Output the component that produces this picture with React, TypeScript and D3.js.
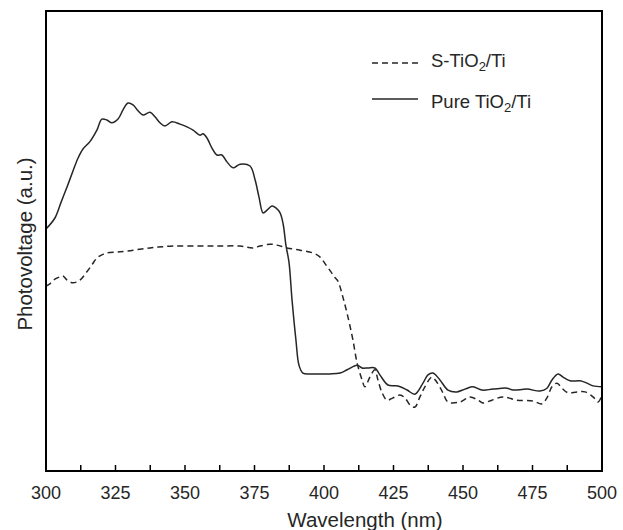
import * as d3 from 'd3';

// wavelength (nm) and photovoltage (a.u.)
const pureNm = [300, 303.2, 305.4, 307.6, 309.7, 311.5, 313.3, 315.8, 318.3, 320.1, 321.9, 323.7, 325.9, 327.7, 329.5, 331.3, 333.1, 334.9, 337.4, 339.2, 341.0, 342.8, 345.3, 348.2, 350.7, 352.9, 355.4, 356.5, 357.9, 359.7, 361.5, 363.3, 365.1, 367.3, 369.8, 373.4, 375.2, 376.6, 378.1, 379.5, 381.3, 382.7, 384.2, 385.3, 386.3, 387.4, 388.5, 389.9, 391.0, 392.4, 395.0, 398.6, 402.2, 405.8, 408.3, 411.9, 413.7, 415.8, 418.3, 420.1, 423.0, 426.6, 429.9, 432.7, 435.6, 437.4, 439.2, 441.7, 444.6, 447.8, 450.7, 453.6, 456.8, 460.8, 465.8, 468.0, 473.0, 477.7, 480.2, 482.0, 484.2, 486.0, 488.5, 492.1, 494.6, 496.8, 500];
const pureVal = [52.6, 55.0, 58.4, 61.8, 65.2, 68.0, 70.0, 71.6, 74.1, 76.5, 76.3, 75.7, 76.5, 78.5, 80.0, 79.6, 78.3, 77.4, 78.0, 77.0, 75.7, 75.0, 75.9, 75.4, 74.8, 74.1, 73.0, 73.3, 72.4, 70.2, 68.7, 68.7, 67.2, 65.9, 66.7, 66.3, 63.3, 59.6, 56.1, 56.7, 57.6, 57.2, 56.1, 53.7, 49.1, 45.4, 37.2, 28.5, 23.0, 21.3, 21.1, 21.1, 21.1, 21.3, 22.0, 23.0, 22.4, 22.4, 22.4, 20.9, 18.7, 18.5, 17.6, 16.7, 19.1, 20.9, 21.3, 19.8, 17.6, 17.2, 17.8, 18.3, 17.6, 17.8, 18.0, 17.6, 17.8, 17.4, 18.0, 19.8, 21.1, 20.4, 19.6, 19.6, 19.1, 18.5, 18.3];

const sNm = [300, 301.4, 303.2, 305.0, 306.1, 307.6, 309.7, 312.2, 314.7, 316.5, 318.3, 320.1, 321.9, 325.5, 329.1, 337.4, 345.7, 355.4, 362.6, 369.8, 374.5, 377.0, 380.6, 383.1, 386.7, 391.4, 396.0, 398.6, 400.7, 402.5, 404.0, 405.0, 406.8, 408.6, 410.4, 411.9, 413.7, 414.7, 416.5, 418.3, 419.4, 420.9, 422.7, 424.8, 427.3, 429.1, 431.0, 432.7, 434.5, 436.3, 438.8, 440.6, 442.8, 444.6, 448.9, 452.5, 455.4, 457.2, 460.4, 464.4, 469.4, 475.2, 478.4, 480.2, 482.0, 483.8, 485.6, 487.8, 491.0, 493.9, 496.8, 498.6, 500];
const sVal = [40.2, 40.7, 41.7, 42.2, 42.4, 41.5, 40.9, 41.5, 43.3, 44.8, 46.3, 47.0, 47.4, 47.6, 47.8, 48.5, 48.9, 48.9, 48.9, 48.9, 48.5, 48.9, 49.3, 49.1, 48.5, 48.0, 47.4, 46.5, 44.8, 43.3, 42.0, 41.3, 37.8, 33.5, 28.5, 23.5, 19.8, 18.3, 20.4, 22.0, 19.8, 17.0, 15.4, 15.9, 16.5, 15.9, 14.3, 13.9, 16.1, 18.3, 20.4, 19.3, 17.0, 15.0, 15.0, 16.1, 15.4, 14.8, 15.4, 16.1, 15.4, 15.2, 14.6, 15.9, 18.3, 19.1, 18.0, 17.0, 17.2, 17.2, 16.1, 15.0, 16.5];

const xTicks = [300, 325, 350, 375, 400, 425, 450, 475, 500];
const seriesNames = ['S-TiO', 'Pure TiO'];

const W = 623;
const H = 530;
const left = 46, right = 602, top = 11, bottom = 471;
const font = '"Liberation Sans", Arial, Helvetica, sans-serif';
const ink = '#262626';

export default function App() {
  const x = d3.scaleLinear().domain([300, 500]).range([left, right]);
  const y = d3.scaleLinear().domain([0, 100]).range([bottom, top]);

  const makePath = (nm: number[], vals: number[]) =>
    d3
      .line<[number, number]>()
      .x((d) => x(d[0]))
      .y((d) => y(d[1]))
      .curve(d3.curveCatmullRom.alpha(0.5))(nm.map((n, i) => [n, vals[i]]));

  const minorTicks = d3.range(300, 500.01, 12.5);

  return (
    <svg
      width={W}
      height={H}
      style={{ position: 'absolute', left: 0, top: 0, background: '#fff' }}
      fontFamily={font}
    >
      <rect x={0} y={0} width={W} height={H} fill="#fff" />

      {/* curves */}
      <path d={makePath(sNm, sVal) || ''} fill="none" stroke={ink} strokeWidth={1.5} strokeDasharray="6,4" />
      <path d={makePath(pureNm, pureVal) || ''} fill="none" stroke={ink} strokeWidth={1.5} />

      {/* frame */}
      <rect x={left} y={top} width={right - left} height={bottom - top} fill="none" stroke="#000" strokeWidth={2} />

      {/* ticks, pointing inward */}
      {minorTicks.map((t) => (
        <line key={t} x1={x(t)} x2={x(t)} y1={bottom} y2={bottom - 6} stroke="#000" strokeWidth={1.5} />
      ))}
      {xTicks.map((t) => (
        <text key={t} x={x(t)} y={499} textAnchor="middle" fontSize={18} fill={ink}>
          {t}
        </text>
      ))}

      <text x={365} y={527} textAnchor="middle" fontSize={20.5} fill={ink}>
        Wavelength (nm)
      </text>
      <text transform="translate(32,244) rotate(-90)" textAnchor="middle" fontSize={20.5} fill={ink}>
        Photovoltage (a.u.)
      </text>

      {/* legend */}
      <line x1={372} x2={418} y1={63} y2={63} stroke={ink} strokeWidth={1.5} strokeDasharray="6,4" />
      <text x={431} y={67} fontSize={18.5} fill={ink}>
        {seriesNames[0]}
        <tspan fontSize={13} dy={4}>2</tspan>
        <tspan dy={-4}>/Ti</tspan>
      </text>
      <line x1={372} x2={418} y1={99} y2={99} stroke={ink} strokeWidth={1.5} />
      <text x={431} y={107.5} fontSize={18.5} fill={ink}>
        {seriesNames[1]}
        <tspan fontSize={13} dy={4}>2</tspan>
        <tspan dy={-4}>/Ti</tspan>
      </text>
    </svg>
  );
}
